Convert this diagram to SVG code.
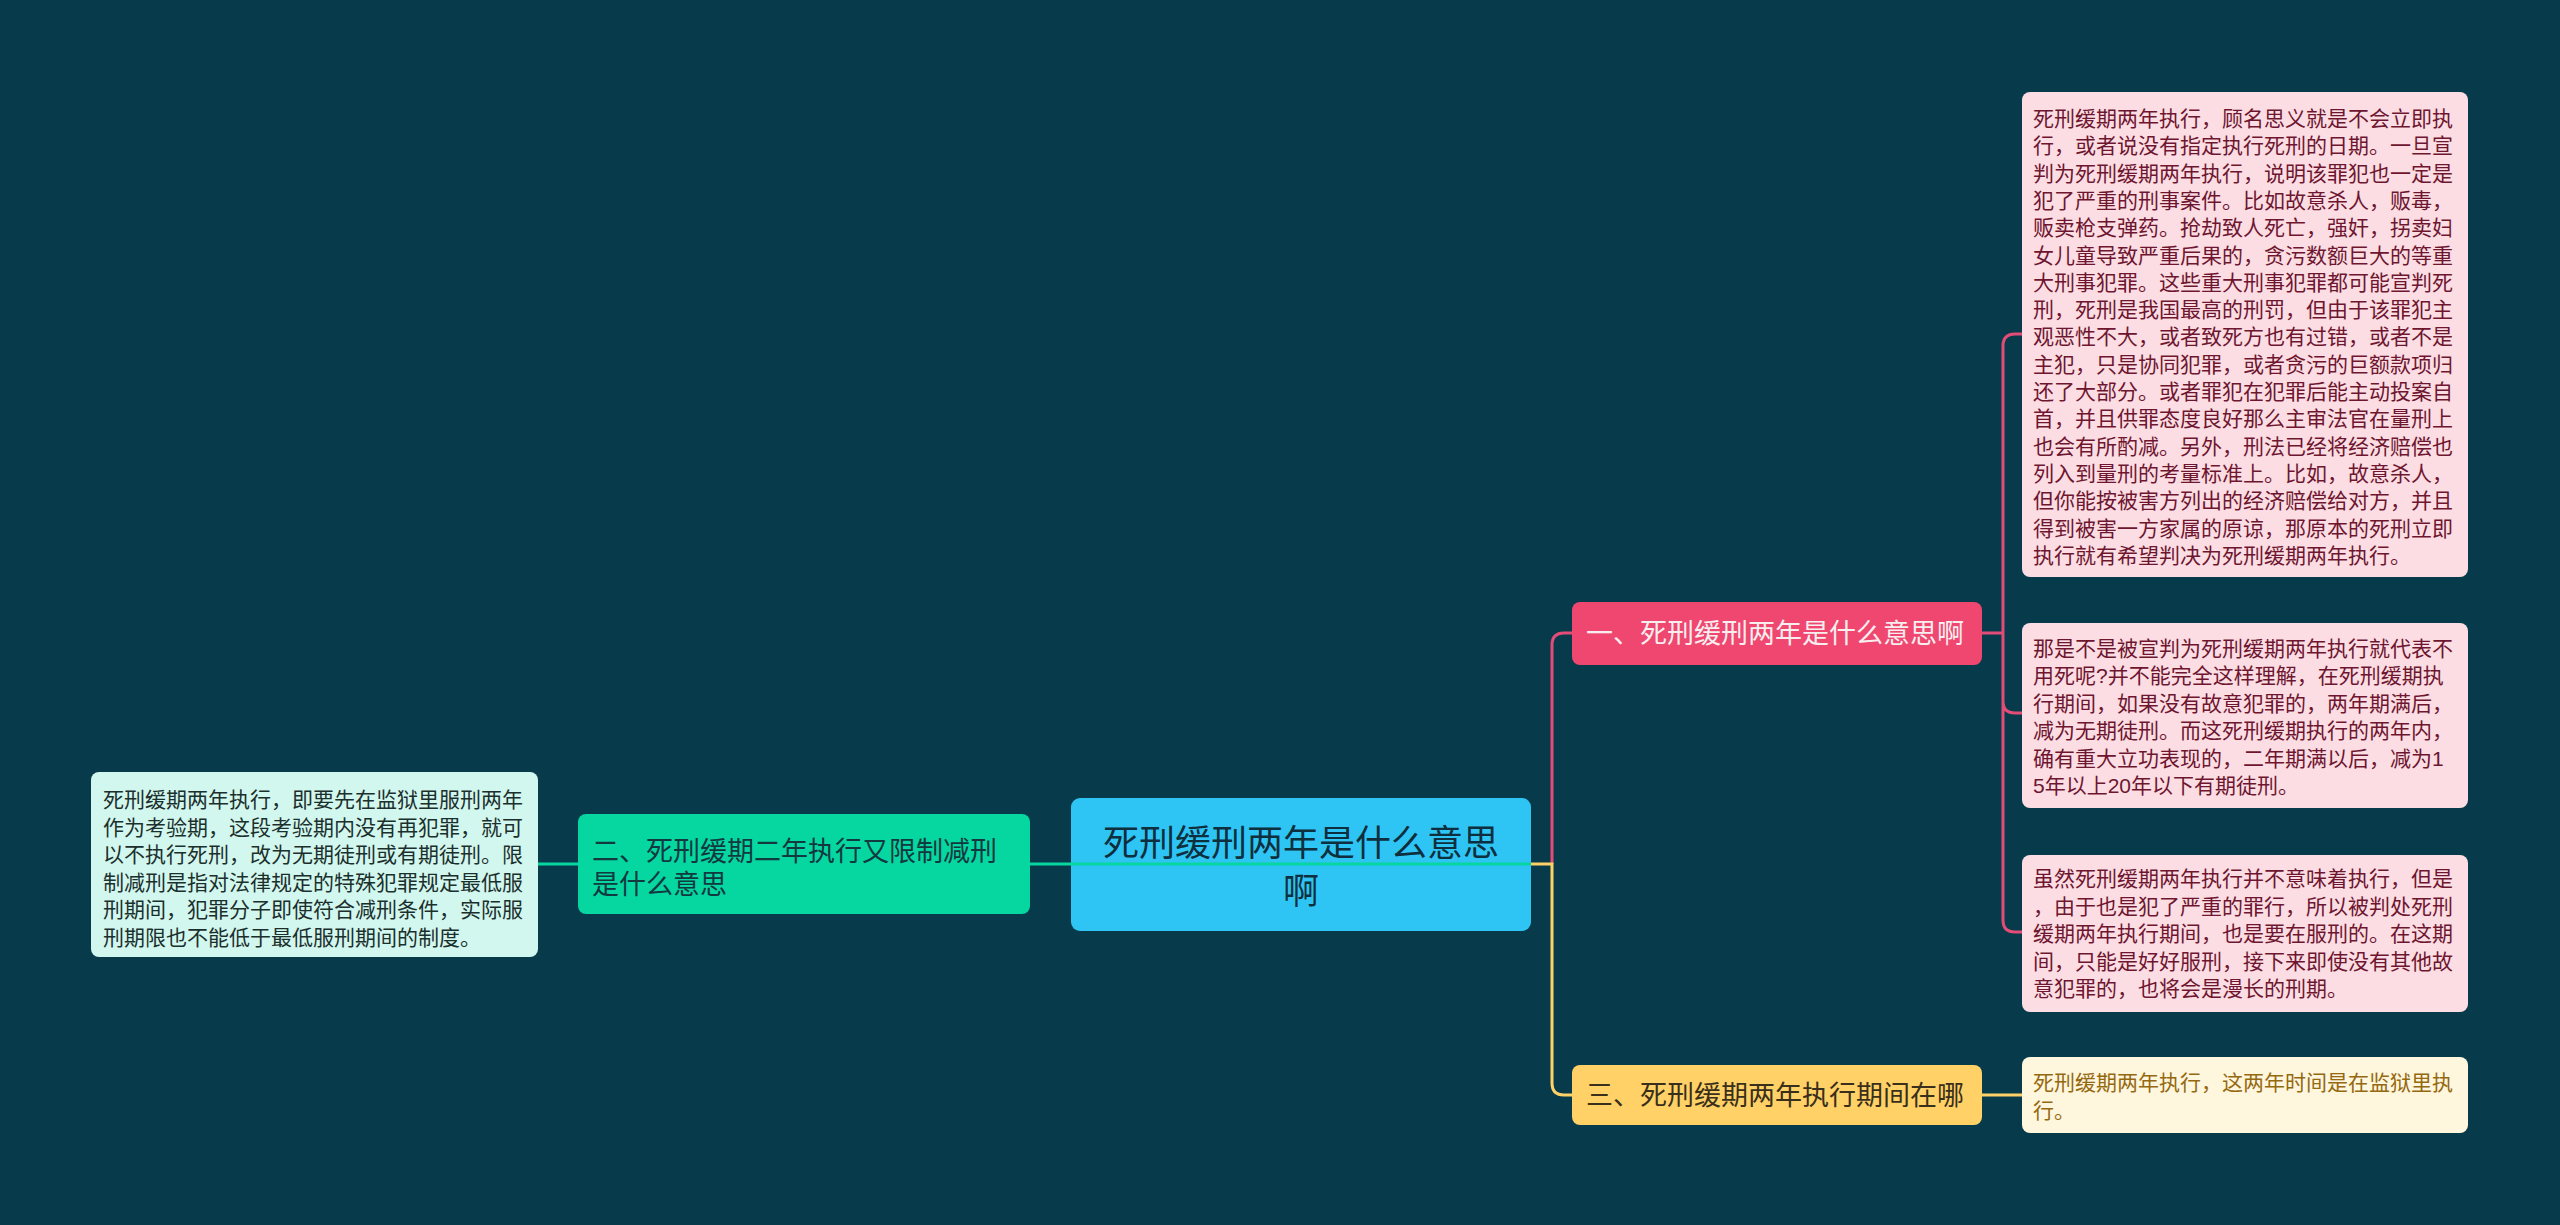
<svg xmlns="http://www.w3.org/2000/svg" width="2560" height="1225" viewBox="0 0 2560 1225">
<style>
text{font-family:"Liberation Sans","Noto Sans CJK SC",sans-serif;}
.leaf{font-size:21px;}
.pinkleaf rect{fill:#fcdde3;}
.pinkleaf text{fill:#6e1530;}
.yleaf rect{fill:#fff6de;}
.yleaf text{fill:#94690f;}
.gleaf rect{fill:#d2f7ef;}
.gleaf text{fill:#1b2f2c;}
.main{font-size:27px;}
.conn{fill:none;stroke-width:3;stroke-linecap:butt;}
</style>
<rect x="0" y="0" width="2560" height="1225" fill="#073b4c"/>

<g id="center">
<rect x="1071" y="798" width="460" height="133" rx="9" fill="#2ec5f5"/>
<text x="1301" y="856" font-size="36" text-anchor="middle" fill="#0e2f3d">死刑缓刑两年是什么意思</text>
<text x="1301" y="904" font-size="36" text-anchor="middle" fill="#0e2f3d">啊</text>
</g>

<g id="connectors">
<path class="conn" stroke="#06d6a0" d="M538,864 H578 M1030,864 H1531"/>
<path class="conn" stroke="#e34c76" d="M1552,864 V645 Q1552,633 1564,633 H1572"/>
<path class="conn" stroke="#e34c76" d="M1982,633 H2003 M2022,334 H2015 Q2003,334 2003,346 V920 Q2003,932 2015,932 H2022 M2003,701 Q2003,713 2015,713 H2022"/>
<path class="conn" stroke="#ffd166" d="M1531,864 H1552 V1083 Q1552,1095 1564,1095 H1572 M1982,1095 H2022"/>
</g>

<g id="n1">
<rect x="1572" y="602" width="410" height="63" rx="8" fill="#ef476f"/>
<text class="main" x="1586" y="643" fill="#f8eef0">一、死刑缓刑两年是什么意思啊</text>
</g>

<g id="n2">
<rect x="578" y="814" width="452" height="100" rx="8" fill="#06d6a0"/>
<text class="main" x="592" y="861" fill="#12393f">二、死刑缓期二年执行又限制减刑</text>
<text class="main" x="592" y="894" fill="#12393f">是什么意思</text>
</g>

<g id="n3">
<rect x="1572" y="1065" width="410" height="60" rx="8" fill="#ffd166"/>
<text class="main" x="1586" y="1105" fill="#3a2f1a">三、死刑缓期两年执行期间在哪</text>
</g>

<g id="leaf1" class="pinkleaf leaf">
<rect x="2022" y="92" width="446" height="485" rx="8"/>
<text x="2033" y="126">死刑缓期两年执行，顾名思义就是不会立即执</text>
<text x="2033" y="153.3">行，或者说没有指定执行死刑的日期。一旦宣</text>
<text x="2033" y="180.6">判为死刑缓期两年执行，说明该罪犯也一定是</text>
<text x="2033" y="207.9">犯了严重的刑事案件。比如故意杀人，贩毒，</text>
<text x="2033" y="235.2">贩卖枪支弹药。抢劫致人死亡，强奸，拐卖妇</text>
<text x="2033" y="262.5">女儿童导致严重后果的，贪污数额巨大的等重</text>
<text x="2033" y="289.8">大刑事犯罪。这些重大刑事犯罪都可能宣判死</text>
<text x="2033" y="317.1">刑，死刑是我国最高的刑罚，但由于该罪犯主</text>
<text x="2033" y="344.4">观恶性不大，或者致死方也有过错，或者不是</text>
<text x="2033" y="371.7">主犯，只是协同犯罪，或者贪污的巨额款项归</text>
<text x="2033" y="399">还了大部分。或者罪犯在犯罪后能主动投案自</text>
<text x="2033" y="426.3">首，并且供罪态度良好那么主审法官在量刑上</text>
<text x="2033" y="453.6">也会有所酌减。另外，刑法已经将经济赔偿也</text>
<text x="2033" y="480.9">列入到量刑的考量标准上。比如，故意杀人，</text>
<text x="2033" y="508.2">但你能按被害方列出的经济赔偿给对方，并且</text>
<text x="2033" y="535.5">得到被害一方家属的原谅，那原本的死刑立即</text>
<text x="2033" y="562.8">执行就有希望判决为死刑缓期两年执行。</text>
</g>

<g id="leaf2" class="pinkleaf leaf">
<rect x="2022" y="623" width="446" height="185" rx="8"/>
<text x="2033" y="656">那是不是被宣判为死刑缓期两年执行就代表不</text>
<text x="2033" y="683.4">用死呢?并不能完全这样理解，在死刑缓期执</text>
<text x="2033" y="710.8">行期间，如果没有故意犯罪的，两年期满后，</text>
<text x="2033" y="738.2">减为无期徒刑。而这死刑缓期执行的两年内，</text>
<text x="2033" y="765.6">确有重大立功表现的，二年期满以后，减为1</text>
<text x="2033" y="793">5年以上20年以下有期徒刑。</text>
</g>

<g id="leaf3" class="pinkleaf leaf">
<rect x="2022" y="855" width="446" height="157" rx="8"/>
<text x="2033" y="886">虽然死刑缓期两年执行并不意味着执行，但是</text>
<text x="2033" y="913.5">，由于也是犯了严重的罪行，所以被判处死刑</text>
<text x="2033" y="941">缓期两年执行期间，也是要在服刑的。在这期</text>
<text x="2033" y="968.5">间，只能是好好服刑，接下来即使没有其他故</text>
<text x="2033" y="996">意犯罪的，也将会是漫长的刑期。</text>
</g>

<g id="leaf4" class="yleaf leaf">
<rect x="2022" y="1057" width="446" height="76" rx="8"/>
<text x="2033" y="1090">死刑缓期两年执行，这两年时间是在监狱里执</text>
<text x="2033" y="1118">行。</text>
</g>

<g id="leaf5" class="gleaf leaf">
<rect x="91" y="772" width="447" height="185" rx="8"/>
<text x="103" y="807">死刑缓期两年执行，即要先在监狱里服刑两年</text>
<text x="103" y="834.6">作为考验期，这段考验期内没有再犯罪，就可</text>
<text x="103" y="862.2">以不执行死刑，改为无期徒刑或有期徒刑。限</text>
<text x="103" y="889.8">制减刑是指对法律规定的特殊犯罪规定最低服</text>
<text x="103" y="917.4">刑期间，犯罪分子即使符合减刑条件，实际服</text>
<text x="103" y="945">刑期限也不能低于最低服刑期间的制度。</text>
</g>
</svg>
